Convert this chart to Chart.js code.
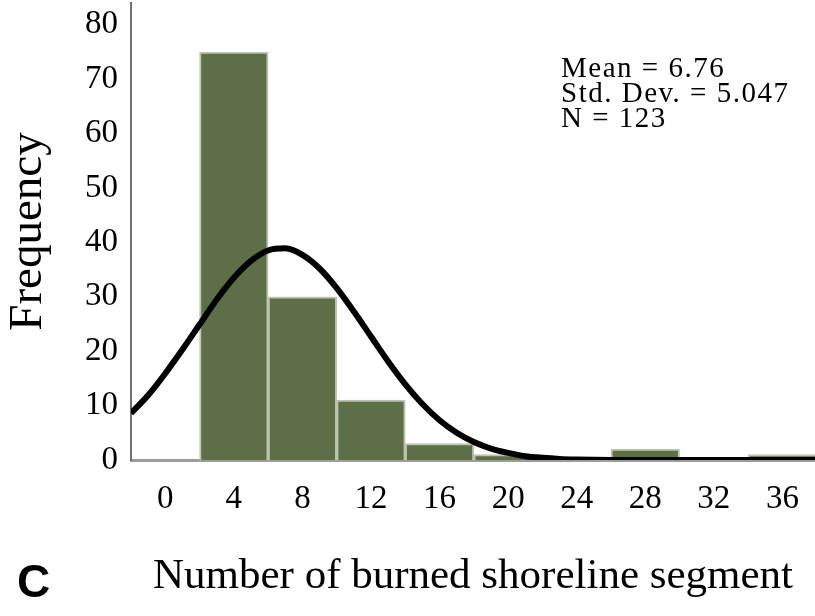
<!DOCTYPE html>
<html>
<head>
<meta charset="utf-8">
<script src="https://cdn.jsdelivr.net/npm/chart.js@4"></script>
<style>
  html, body { margin: 0; padding: 0; background: #fff; }
  #wrap { width: 815px; height: 616px; }
</style>
</head>
<body>
<div id="wrap"><canvas id="chartCanvas" width="815" height="616"></canvas></div>
<script>
// histogram bins (centres, width 4) and counts
const binCentres = [0, 4, 8, 12, 16, 20, 24, 28, 32, 36];
const binCounts = [0, 75, 30, 11, 3, 1, 0, 2, 0, 1];

// fitted normal curve at whole x values
const curveX = [-2, -1, 0, 1, 2, 3, 4, 5, 6, 7, 8, 9, 10, 11, 12, 13, 14, 15, 16, 17, 18, 19,
  20, 21, 22, 23, 24, 25, 26, 28, 30, 32, 34, 36, 38];
const curveY = [8.6, 11.9, 15.9, 20.3, 24.9, 29.5, 33.5, 36.6, 38.5, 38.9, 37.7, 35.2, 31.6, 27.3,
  22.7, 18.1, 13.9, 10.3, 7.3, 5.0, 3.3, 2.1, 1.3, 0.7, 0.4, 0.2, 0.1, 0.05, 0.02, 0, 0, 0, 0, 0, 0];

const xTicks = [0, 4, 8, 12, 16, 20, 24, 28, 32, 36];
const yTicks = [0, 10, 20, 30, 40, 50, 60, 70, 80];
const statLines = ["Mean = 6.76", "Std. Dev. = 5.047", "N = 123"];
const panelLetter = "C";

const serif = "'Liberation Serif', 'Times New Roman', serif";

const extraText = {
  id: "extraText",
  afterDraw(chart) {
    const ctx = chart.ctx;
    ctx.save();
    ctx.fillStyle = "#000";
    ctx.textAlign = "left";
    ctx.textBaseline = "alphabetic";
    ctx.font = "29px " + serif;
    ctx.letterSpacing = "1.5px";
    statLines.forEach((t, i) => ctx.fillText(t, 561, 77 + i * 25));
    ctx.letterSpacing = "0px";
    ctx.font = "bold 46px 'Liberation Sans', Arial, sans-serif";
    ctx.fillText(panelLetter, 17, 597);
    ctx.restore();
  }
};

const ctx = document.getElementById("chartCanvas").getContext("2d");

new Chart(ctx, {
  type: "bar",
  data: {
    datasets: [{
      type: "line",
      data: curveX.map((x, i) => ({ x: x, y: curveY[i] })),
      borderColor: "#000",
      borderWidth: 6,
      pointRadius: 0,
      tension: 0.4,
      cubicInterpolationMode: "monotone",
      order: 1
    }, {
      type: "bar",
      data: binCentres.map((x, i) => ({ x: x, y: binCounts[i] })),
      backgroundColor: "#5c6f46",
      borderColor: "#bcc4b0",
      borderWidth: 2,
      borderSkipped: "bottom",
      barPercentage: 1,
      categoryPercentage: 1,
      order: 2
    }]
  },
  options: {
    responsive: false,
    animation: false,
    layout: { padding: { top: 3, right: 0, bottom: 0, left: 0 } },
    plugins: { legend: { display: false }, tooltip: { enabled: false } },
    scales: {
      x: {
        type: "linear",
        min: -2,
        max: 37.9,
        offset: false,
        grid: { display: false, drawTicks: false },
        border: { display: true, color: "#9c9c9c", width: 3 },
        ticks: { includeBounds: false, stepSize: 4, padding: 20, color: "#000", font: { family: serif, size: 33 } },
        afterBuildTicks: s => { s.ticks = xTicks.map(v => ({ value: v })); },
        afterFit: s => { s.height = 156; s.paddingLeft = 0; s.paddingRight = 0; },
        title: {
          display: true,
          text: "Number of burned shoreline segment",
          color: "#000",
          font: { family: serif, size: 43 },
          padding: { top: 0, bottom: 13 }
        }
      },
      y: {
        min: 0,
        max: 84,
        grid: { display: false, drawTicks: false },
        border: { display: true, color: "#707070", width: 2 },
        ticks: { includeBounds: false, stepSize: 10, padding: 13, color: "#000", font: { family: serif, size: 33 } },
        afterBuildTicks: s => { s.ticks = yTicks.map(v => ({ value: v })); },
        afterFit: s => { s.width = 131; s.paddingTop = 0; s.paddingBottom = 0; },
        title: {
          display: true,
          text: "Frequency",
          color: "#000",
          font: { family: serif, size: 47 },
          padding: { top: 0, bottom: 0 }
        }
      }
    }
  },
  plugins: [extraText]
});
</script>
</body>
</html>
